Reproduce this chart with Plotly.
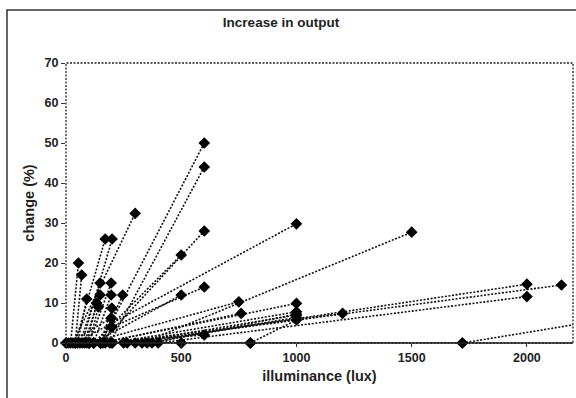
import plotly.graph_objects as go

# segments: start (illuminance, change) -> end (illuminance, change)
x_start = [150, 190, 150, 120, 200, 120, 30, 40, 70, 20, 40, 50, 60, 100, 80, 120, 150,
           90, 100, 150, 160, 170, 40, 330, 100, 150, 120, 150, 200, 265, 800, 200,
           300, 250, 400, 0, 500, 800, 352, 373, 10, 0]
y_start = [0, 0, 0, 0, 4, 0, 0, 0, 0, 0, 0, 0, 0, 0, 0, 0, 0,
           0, 0, 0, 0, 0, 0, 0, 0, 0, 0, 0, 0, 0, 0, 0,
           0, 0, 0, 0, 0, 0, 0, 0, 0, 0]
x_end = [600, 600, 600, 500, 600, 500, 300, 170, 200, 54, 68, 90, 148, 196, 148, 196, 246,
         133, 141, 199, 196, 196, 1000, 1500, 750, 760, 600, 1000, 1000, 1000, 1000, 1200,
         2000, 2150, 2000, 500, 800, 1720, 1000, 1000, 196, 100]
y_end = [50, 44, 28, 22, 14, 12, 32.4, 26, 26, 20, 17, 11, 15, 15, 12, 12, 12,
         10, 9, 8.7, 6.2, 4, 29.8, 27.7, 10.3, 7.4, 2, 9.9, 7.8, 7, 5.75, 7.4,
         14.7, 14.5, 11.6, 0, 0, 0, 6.4, 7.2, 6.2, 0]

# segment that runs past the right edge of the plot
x_out_start = [1720]
y_out_start = [0]
x_out_end = [2420]
y_out_end = [6.6]

x_ticks = [0, 500, 1000, 1500, 2000]
y_ticks = [0, 10, 20, 30, 40, 50, 60, 70]

def build(xs, ys, xe, ye):
    X, Y = [], []
    for a, b, c, d in zip(xs, ys, xe, ye):
        X += [a, c, None]
        Y += [b, d, None]
    return X, Y

X, Y = build(x_start, y_start, x_end, y_end)
Xo, Yo = build(x_out_start, y_out_start, x_out_end, y_out_end)

fig = go.Figure()
fig.add_trace(go.Scatter(
    x=Xo, y=Yo, mode="lines", cliponaxis=True,
    line=dict(color="#111111", width=1.6, dash="2px,1.6px"), showlegend=False))
fig.add_trace(go.Scatter(
    x=x_out_start, y=y_out_start, mode="markers", cliponaxis=False,
    marker=dict(symbol="diamond", size=9, color="#000000"), showlegend=False))
fig.add_trace(go.Scatter(
    x=X, y=Y, mode="lines+markers", cliponaxis=False,
    line=dict(color="#111111", width=1.6, dash="2px,1.6px"),
    marker=dict(symbol="diamond", size=9, color="#000000"), showlegend=False))

L, R, T, B = 66, 3, 63, 55
W, H = 576, 398
pw, ph = W - L - R, H - T - B

def px(x):
    return (x - L) / pw

def py(y):
    return (H - B - y) / ph

fig.update_layout(
    width=W, height=H,
    margin=dict(l=L, r=R, t=T, b=B, autoexpand=False),
    paper_bgcolor="white", plot_bgcolor="white",
    font=dict(family="Liberation Sans, Arial, sans-serif", color="#222222"),
    title=dict(text="<b>Increase in output</b>", x=281 / W, xanchor="center",
               y=1 - 22 / H, yanchor="middle", font=dict(size=13.5)),
    xaxis=dict(range=[0, 2200], tickvals=x_ticks, ticktext=[f"<b>{v}</b>" for v in x_ticks],
               showgrid=False, zeroline=False, showline=False, automargin=False,
               ticks="outside", ticklen=3, tickcolor="#333", tickfont=dict(size=12.5),
               title=dict(text="<b>illuminance (lux)</b>", font=dict(size=14.5), standoff=6)),
    yaxis=dict(range=[0, 70], tickvals=y_ticks, ticktext=[f"<b>{v}</b>" for v in y_ticks],
               showgrid=False, zeroline=False, showline=False, automargin=False,
               ticks="outside", ticklen=4, tickcolor="#333", tickfont=dict(size=12.5),
               title=dict(text="<b>change (%)</b>", font=dict(size=14.5), standoff=6)),
    shapes=[
        dict(type="rect", xref="paper", yref="paper", x0=0, y0=0, x1=1, y1=1,
             line=dict(color="#222222", width=1.3, dash="2px,1.5px")),
        dict(type="line", xref="paper", yref="paper", x0=0, y0=0, x1=1, y1=0,
             line=dict(color="#222222", width=1.3)),
        dict(type="path", xref="paper", yref="paper",
             path=f"M {px(7)} {py(398)} L {px(7)} {py(10)} L {px(576)} {py(10)}",
             line=dict(color="#333333", width=1.5)),
    ],
)

fig.write_html("out.html", config={"displayModeBar": False},
               post_script="document.body.style.margin='0';document.body.style.padding='0';")
